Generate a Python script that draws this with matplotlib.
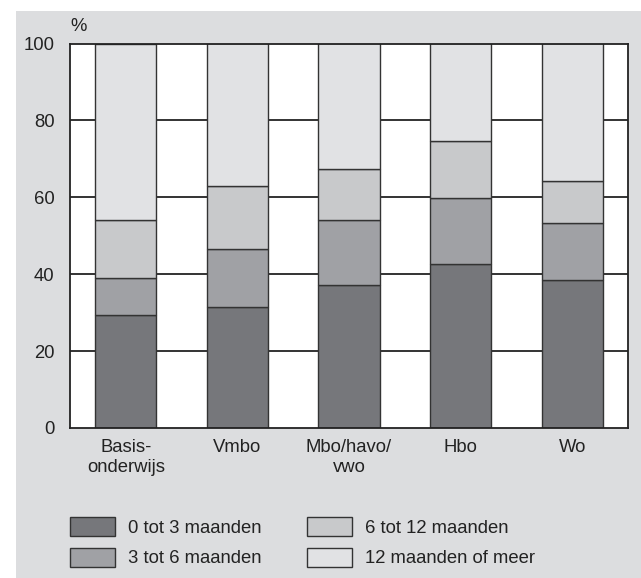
import matplotlib
matplotlib.use("Agg")
import matplotlib.pyplot as plt
from matplotlib.patches import Rectangle
import numpy as np

plt.rcParams['font.family'] = ['Liberation Sans', 'DejaVu Sans']

categories = ["Basis-\nonderwijs", "Vmbo", "Mbo/havo/\nvwo", "Hbo", "Wo"]
series_names = ["0 tot 3 maanden", "3 tot 6 maanden", "6 tot 12 maanden", "12 maanden of meer"]
s_0_3 = [29.5, 31.4, 37.2, 42.6, 38.4]
s_3_6 = [9.6, 15.1, 17.0, 17.3, 15.0]
s_6_12 = [15.0, 16.5, 13.1, 14.7, 10.8]
s_12p = [45.9, 37.0, 32.7, 25.4, 35.8]
yticks = [0, 20, 40, 60, 80, 100]

colors = ["#76777b", "#a0a1a5", "#c8c9cb", "#e1e2e4"]

FS = 13.3
W, H = 641, 578
fig = plt.figure(figsize=(W / 100, H / 100), dpi=100, facecolor="white")
fig.patches.append(Rectangle((15.5 / W, 0), 1 - 15.5 / W, 1 - 11 / H, transform=fig.transFigure,
                             facecolor="#dcdddf", edgecolor="none", zorder=-10))

ax = fig.add_axes([70 / W, 1 - 428 / H, (628 - 70) / W, (428 - 43.5) / H])
ax.set_facecolor("white")

x = np.arange(len(categories))
bottom = np.zeros(len(categories))
for name, vals, c in zip(series_names, [s_0_3, s_3_6, s_6_12, s_12p], colors):
    ax.bar(x, vals, width=0.547, bottom=bottom, color=c, edgecolor="#333333",
           linewidth=1.0, label=name, zorder=3)
    bottom += np.array(vals)

ax.set_xlim(-0.5, 4.5)
ax.set_ylim(0, 100)
ax.set_yticks(yticks)
ax.set_yticklabels([str(t) for t in yticks], fontsize=FS, color="#222222")
ax.set_xticks(x)
ax.set_xticklabels(categories, fontsize=FS, color="#222222", linespacing=1.2)
ax.tick_params(axis="both", length=0)
ax.tick_params(axis="y", pad=11)
ax.tick_params(axis="x", pad=8)
for yv in yticks[1:-1]:
    ax.axhline(yv, color="#111111", linewidth=1.2, zorder=1)
for s in ax.spines.values():
    s.set_color("#222222")
    s.set_linewidth(1.3)
    s.set_zorder(4)

ax.text(0.0, 1.022, "%", transform=ax.transAxes, fontsize=FS, color="#222222",
        ha="left", va="bottom")

leg = fig.legend(loc="upper left", bbox_to_anchor=(70 / W, 1 - 517 / H), ncol=2,
                 frameon=False, fontsize=FS, handlelength=2.45, handleheight=1.23,
                 handletextpad=0.69, columnspacing=2.45, labelspacing=0.58,
                 borderpad=0, borderaxespad=0)
for t in leg.get_texts():
    t.set_color("#222222")

fig.savefig("out.png", dpi=100, facecolor=fig.get_facecolor())
